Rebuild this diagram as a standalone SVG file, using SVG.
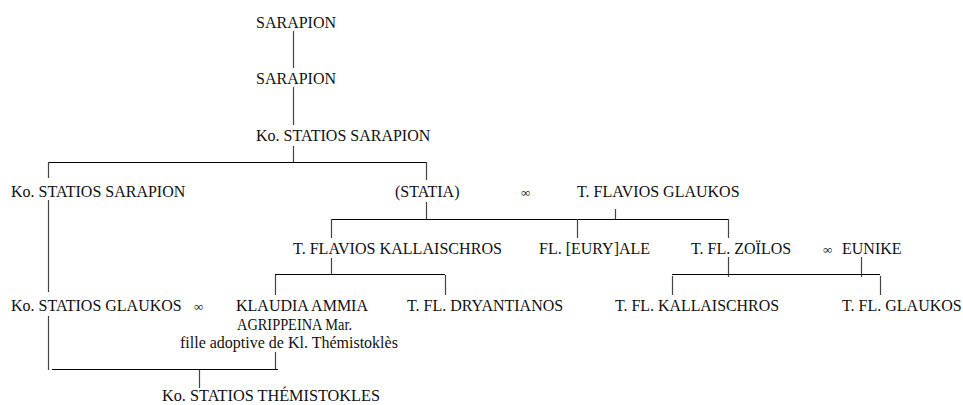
<svg xmlns="http://www.w3.org/2000/svg" width="963" height="405" viewBox="0 0 963 405">
<style>
text{font-family:"Liberation Serif","Times New Roman",serif;font-size:16px;fill:#111}
.m{font-size:13px}
.h{stroke:#000;stroke-width:1;fill:none}
.v{stroke:#444;stroke-width:1.2;fill:none}
</style>
<rect width="963" height="405" fill="#fff"/>
<g id="connectors">
<path class="v" d="M293.5 31V68M293.5 87V125M293.5 146V162"/>
<path class="h" d="M48 162.5H427"/>
<path class="v" d="M48.5 162V178M48.5 200V292M48.5 316V370"/>
<path class="v" d="M426.5 162V180M426.5 202V219"/>
<path class="h" d="M331 219.5H728"/>
<path class="v" d="M615.5 209V219M331.5 219V238M577.5 219V238M728.5 219V238"/>
<path class="v" d="M331.5 258V275M728.5 257V277M861.5 257V277"/>
<path class="h" d="M275 274.5H445M672 274.5H880"/>
<path class="v" d="M275.5 275V295M445.5 275V295M672.5 276V295M880.5 276V295"/>
<path class="v" d="M275.5 352V370"/>
<path class="h" d="M52 369.5H278"/>
<path class="v" d="M199.5 370V388"/>
</g>
<g id="n1"><text x="256" y="28">SARAPION</text></g>
<g id="n2"><text x="256" y="84">SARAPION</text></g>
<g id="n3"><text x="256" y="141">Ko. STATIOS SARAPION</text></g>
<g id="n4"><text x="11" y="197">Ko. STATIOS SARAPION</text></g>
<g id="n5"><text x="395" y="197">(STATIA)</text></g>
<g id="m1"><text class="m" x="521" y="197">∞</text></g>
<g id="n6"><text x="577" y="197">T. FLAVIOS GLAUKOS</text></g>
<g id="n7"><text x="293" y="254" textLength="209" lengthAdjust="spacingAndGlyphs">T. FLAVIOS KALLAISCHROS</text></g>
<g id="n8"><text x="539" y="254">FL. [EURY]ALE</text></g>
<g id="n9"><text x="691" y="254">T. FL. ZOÏLOS</text></g>
<g id="m2"><text class="m" x="823" y="254">∞</text></g>
<g id="n10"><text x="842" y="254">EUNIKE</text></g>
<g id="n11"><text x="11" y="311">Ko. STATIOS GLAUKOS</text></g>
<g id="m3"><text class="m" x="194" y="311">∞</text></g>
<g id="n12">
<text x="236" y="311">KLAUDIA AMMIA</text>
<text x="237" y="330" textLength="115" lengthAdjust="spacingAndGlyphs">AGRIPPEINA Mar.</text>
<text x="180" y="348">fille adoptive de Kl. Thémistoklès</text>
</g>
<g id="n13"><text x="407" y="311">T. FL. DRYANTIANOS</text></g>
<g id="n14"><text x="615" y="311" textLength="164" lengthAdjust="spacingAndGlyphs">T. FL. KALLAISCHROS</text></g>
<g id="n15"><text x="842" y="311">T. FL. GLAUKOS</text></g>
<g id="n16"><text x="162" y="401" textLength="218" lengthAdjust="spacingAndGlyphs">Ko. STATIOS THÉMISTOKLES</text></g>
</svg>
